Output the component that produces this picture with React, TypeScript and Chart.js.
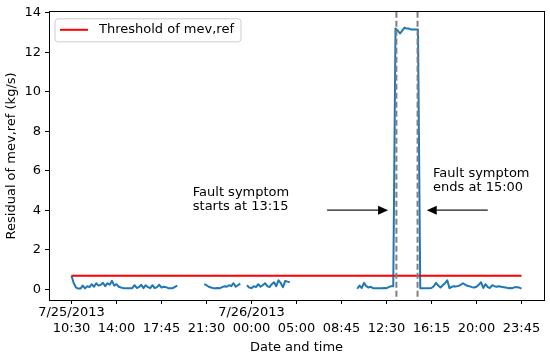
import React, { useEffect, useRef } from 'react';
import { Chart, registerables } from 'chart.js';

Chart.register(...registerables);

// ---- data ----
const xTickValues = [0, 20, 40, 60, 80, 100, 120, 140, 160, 180, 200];
const xTickLabels: string[][] = [
  ['7/25/2013', '10:30'],
  ['', '14:00'],
  ['', '17:45'],
  ['', '21:30'],
  ['7/26/2013', '00:00'],
  ['', '05:00'],
  ['', '08:45'],
  ['', '12:30'],
  ['', '16:15'],
  ['', '20:00'],
  ['', '23:45'],
];
const yTickValues = [0, 2, 4, 6, 8, 10, 12, 14];

// residual samples (index = sample number), four recorded stretches
const seg1Start = 0;
const seg1 = [
  0.68, 0.3, 0.08, 0.03, 0.03, 0.18, 0.04, 0.15, 0.1, 0.25,
  0.12, 0.3, 0.18, 0.22, 0.32, 0.15, 0.3, 0.22, 0.42, 0.18,
  0.25, 0.12, 0.08, 0.05, 0.05, 0.05, 0.04, 0.05, 0.2, 0.06,
  0.1, 0.22, 0.05, 0.2, 0.1, 0.05, 0.2, 0.05, 0.1, 0.22,
  0.08, 0.12, 0.1, 0.05, 0.05, 0.05, 0.12, 0.18,
];
const seg2Start = 59;
const seg2 = [
  0.25, 0.2, 0.12, 0.08, 0.05, 0.05, 0.06, 0.05, 0.1, 0.15,
  0.12, 0.2, 0.15, 0.3, 0.12, 0.2, 0.28,
];
const seg3Start = 78;
const seg3 = [
  0.2, 0.08, 0.05, 0.15, 0.1, 0.25, 0.12, 0.2, 0.3, 0.15,
  0.1, 0.25, 0.35, 0.15, 0.45, 0.3, 0.1, 0.42, 0.38, 0.35,
];
const seg4Start = 127;
const seg4 = [
  0.02, 0.18, 0.06, 0.32, 0.15, 0.08, 0.12, 0.05, 0.05, 0.04,
  0.05, 0.05, 0.06, 0.05, 0.1, 0.15, 0.15, 13.2, 13.1, 12.95,
  13.1, 13.25, 13.2, 13.2, 13.15, 13.15, 13.15, 13.15, 0.05, 0.04,
  0.04, 0.05, 0.05, 0.06, 0.15, 0.32, 0.18, 0.08, 0.2, 0.3,
  0.45, 0.05, 0.12, 0.15, 0.14, 0.16, 0.22, 0.3, 0.22, 0.17,
  0.14, 0.1, 0.08, 0.12, 0.22, 0.35, 0.06, 0.25, 0.1, 0.06,
  0.2, 0.15, 0.12, 0.15, 0.12, 0.1, 0.08, 0.05, 0.06, 0.05,
  0.1, 0.1, 0.08, 0.03,
];

const thresholdX = [0, 200];
const thresholdValue = 0.68;

const faultStart = 144.4;
const faultEnd = 153.8;

// annotations (data coordinates)
const startText = ['Fault symptom', 'starts at 13:15'];
const startTextPos = { x: 53.9, y: 4.735 };
const startArrow = { fromX: 113.6, toX: 140.7, y: 4.0 };
const endText = ['Fault symptom', 'ends at 15:00'];
const endTextPos = { x: 160.7, y: 5.7 };
const endArrow = { fromX: 185, toX: 157.9, y: 4.0 };

const legendLabel = 'Threshold of mev,ref';
const FONT = '"DejaVu Sans", sans-serif';

const segments = [
  { start: seg1Start, values: seg1 },
  { start: seg2Start, values: seg2 },
  { start: seg3Start, values: seg3 },
  { start: seg4Start, values: seg4 },
];

function buildResidual() {
  const pts: { x: number; y: number | null }[] = [];
  segments.forEach((s, k) => {
    if (k > 0) pts.push({ x: s.start - 0.5, y: null });
    s.values.forEach((v, i) => pts.push({ x: s.start + i, y: v }));
  });
  return pts;
}

function drawArrow(ctx: CanvasRenderingContext2D, x0: number, y0: number, x1: number, y1: number) {
  const head = 10;
  const half = 4.5;
  const dir = Math.sign(x1 - x0);
  ctx.strokeStyle = '#1a1a1a';
  ctx.fillStyle = '#000';
  ctx.lineWidth = 1.3;
  ctx.beginPath();
  ctx.moveTo(x0, y0);
  ctx.lineTo(x1 - dir * head, y1);
  ctx.stroke();
  ctx.beginPath();
  ctx.moveTo(x1, y1);
  ctx.lineTo(x1 - dir * head, y1 - half);
  ctx.lineTo(x1 - dir * head, y1 + half);
  ctx.closePath();
  ctx.fill();
}

const decorPlugin = {
  id: 'decor',
  afterDatasetsDraw(chart: any) {
    const { ctx, chartArea: a, scales } = chart;
    const x = scales.x;
    const y = scales.y;
    ctx.save();
    // dashed fault markers
    ctx.strokeStyle = '#7f7f7f';
    ctx.lineWidth = 2;
    ctx.setLineDash([6, 3]);
    [faultStart, faultEnd].forEach((v) => {
      const px = x.getPixelForValue(v);
      ctx.beginPath();
      ctx.moveTo(px, a.top);
      ctx.lineTo(px, a.bottom);
      ctx.stroke();
    });
    ctx.setLineDash([]);
    // arrows
    drawArrow(ctx, x.getPixelForValue(startArrow.fromX), y.getPixelForValue(startArrow.y),
      x.getPixelForValue(startArrow.toX), y.getPixelForValue(startArrow.y));
    drawArrow(ctx, x.getPixelForValue(endArrow.fromX), y.getPixelForValue(endArrow.y),
      x.getPixelForValue(endArrow.toX), y.getPixelForValue(endArrow.y));
    // texts
    ctx.fillStyle = '#000';
    ctx.font = `13px ${FONT}`;
    ctx.textAlign = 'left';
    ctx.textBaseline = 'alphabetic';
    const lh = 14.7;
    startText.forEach((t, i) => {
      ctx.fillText(t, x.getPixelForValue(startTextPos.x), y.getPixelForValue(startTextPos.y) + i * lh);
    });
    endText.forEach((t, i) => {
      ctx.fillText(t, x.getPixelForValue(endTextPos.x), y.getPixelForValue(endTextPos.y) + i * lh);
    });
    ctx.restore();
  },
  afterDraw(chart: any) {
    const { ctx, chartArea: a } = chart;
    ctx.save();
    // frame
    ctx.strokeStyle = '#000';
    ctx.lineWidth = 1;
    const l = Math.floor(a.left) + 0.5;
    const t = Math.floor(a.top) + 0.5;
    const r = Math.floor(a.right) + 0.5;
    const b = Math.floor(a.bottom) + 0.5;
    ctx.strokeRect(l, t, r - l, b - t);
    // legend box
    const bx = a.left + 6;
    const by = a.top + 7;
    const bw = 186;
    const bh = 23;
    const rad = 3;
    ctx.beginPath();
    ctx.moveTo(bx + rad, by);
    ctx.lineTo(bx + bw - rad, by);
    ctx.quadraticCurveTo(bx + bw, by, bx + bw, by + rad);
    ctx.lineTo(bx + bw, by + bh - rad);
    ctx.quadraticCurveTo(bx + bw, by + bh, bx + bw - rad, by + bh);
    ctx.lineTo(bx + rad, by + bh);
    ctx.quadraticCurveTo(bx, by + bh, bx, by + bh - rad);
    ctx.lineTo(bx, by + rad);
    ctx.quadraticCurveTo(bx, by, bx + rad, by);
    ctx.closePath();
    ctx.fillStyle = 'rgba(255,255,255,0.85)';
    ctx.fill();
    ctx.strokeStyle = '#cccccc';
    ctx.lineWidth = 1;
    ctx.stroke();
    const ly = by + 11;
    ctx.strokeStyle = '#ff0000';
    ctx.lineWidth = 2;
    ctx.beginPath();
    ctx.moveTo(bx + 5, ly);
    ctx.lineTo(bx + 33, ly);
    ctx.stroke();
    ctx.fillStyle = '#000';
    ctx.font = `13px ${FONT}`;
    ctx.textAlign = 'left';
    ctx.textBaseline = 'middle';
    ctx.fillText(legendLabel, bx + 44, ly);
    ctx.restore();
  },
};

export default function App() {
  const canvasRef = useRef<HTMLCanvasElement | null>(null);

  useEffect(() => {
    const canvas = canvasRef.current;
    if (!canvas) return;
    const chart = new Chart(canvas, {
      type: 'line',
      data: {
        datasets: [
          {
            label: legendLabel,
            data: thresholdX.map((v) => ({ x: v, y: thresholdValue })),
            borderColor: '#ff0000',
            borderWidth: 2,
            pointRadius: 0,
            tension: 0,
          },
          {
            label: 'Residual',
            data: buildResidual(),
            borderColor: '#1f77b4',
            borderWidth: 2,
            borderJoinStyle: 'round',
            pointRadius: 0,
            tension: 0,
            spanGaps: false,
          },
        ],
      },
      options: {
        animation: false,
        responsive: false,
        maintainAspectRatio: false,
        devicePixelRatio: 1,
        layout: { padding: { top: 8, right: 6, left: 0, bottom: 0 } },
        plugins: {
          legend: { display: false },
          tooltip: { enabled: false },
        },
        scales: {
          x: {
            type: 'linear',
            min: -10,
            max: 210,
            afterBuildTicks: (scale: any) => {
              scale.ticks = xTickValues.map((v) => ({ value: v }));
            },
            afterFit: (scale: any) => {
              scale.height = 56;
            },
            ticks: {
              autoSkip: false,
              maxRotation: 0,
              minRotation: 0,
              padding: 1,
              color: '#000',
              font: { family: FONT, size: 13 },
              callback: (v: any) => {
                const i = xTickValues.indexOf(Number(v));
                return i >= 0 ? xTickLabels[i] : '';
              },
            },
            grid: {
              display: true,
              drawOnChartArea: false,
              drawTicks: true,
              tickLength: 4,
              color: '#000',
              lineWidth: 1,
            },
            border: { display: false },
            title: {
              display: true,
              text: 'Date and time',
              color: '#000',
              font: { family: FONT, size: 13 },
              padding: { top: 1, bottom: 1 },
            },
          },
          y: {
            type: 'linear',
            min: -0.55,
            max: 14.05,
            afterBuildTicks: (scale: any) => {
              scale.ticks = yTickValues.map((v) => ({ value: v }));
            },
            afterFit: (scale: any) => {
              scale.width = 49;
            },
            ticks: {
              padding: 4,
              color: '#000',
              font: { family: FONT, size: 13 },
              callback: (v: any) => String(v),
            },
            grid: {
              display: true,
              drawOnChartArea: false,
              drawTicks: true,
              tickLength: 4,
              color: '#000',
              lineWidth: 1,
            },
            border: { display: false },
            title: {
              display: true,
              text: 'Residual of mev,ref (kg/s)',
              color: '#000',
              font: { family: FONT, size: 13 },
              padding: { top: 4, bottom: 4 },
            },
          },
        },
      },
      plugins: [decorPlugin],
    });
    return () => chart.destroy();
  }, []);

  return (
    <div style={{ position: 'absolute', left: 0, top: 0, width: 550, height: 356, background: '#fff' }}>
      <canvas ref={canvasRef} width={550} height={356} style={{ display: 'block' }} />
    </div>
  );
}
